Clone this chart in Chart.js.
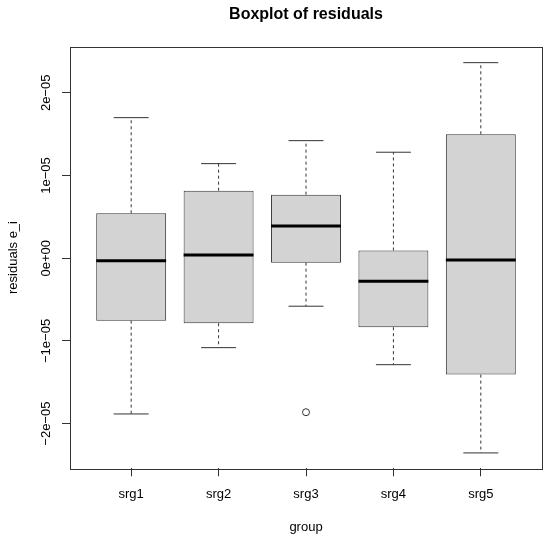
<!DOCTYPE html>
<html>
<head>
<meta charset="utf-8">
<title>Boxplot of residuals</title>
<script src="https://cdn.jsdelivr.net/npm/chart.js@4.4.0/dist/chart.umd.min.js"></script>
<style>
    html, body { margin: 0; padding: 0; background: #fff; }
    #boxChart { display: block; }
</style>
</head>
<body>
<canvas id="boxChart" width="550" height="542"></canvas>
<script>
    // five-number summaries
    const groups       = ['srg1', 'srg2', 'srg3', 'srg4', 'srg5'];
    const lowerWhisker = [-1.883e-5, -1.081e-5, -0.580e-5, -1.287e-5, -2.354e-5];
    const q1           = [-0.755e-5, -0.786e-5, -0.053e-5, -0.834e-5, -1.407e-5];
    const median       = [-0.029e-5,  0.040e-5,  0.391e-5, -0.277e-5, -0.021e-5];
    const q3           = [ 0.544e-5,  0.817e-5,  0.769e-5,  0.094e-5,  1.499e-5];
    const upperWhisker = [ 1.700e-5,  1.144e-5,  1.422e-5,  1.282e-5,  2.365e-5];
    const outlierGroup = [3];
    const outlierValue = [-1.862e-5];

    const yTicks      = [-2e-5, -1e-5, 0, 1e-5, 2e-5];
    const yTickLabels = ['\u22122e\u221205', '\u22121e\u221205', '0e+00', '1e\u221205', '2e\u221205'];
    const yMin = -2.54e-5, yMax = 2.558e-5;

    const FONT = '"Liberation Sans", Arial, Helvetica, sans-serif';
    const LINE = '#333';

    // dashed whiskers: box edge -> whisker end, gaps between segments
    function whiskerPoints() {
        const pts = [];
        groups.forEach((g, i) => {
            const x = i + 1;
            pts.push({x: x, y: q3[i]}, {x: x, y: upperWhisker[i]}, {x: x, y: null});
            pts.push({x: x, y: q1[i]}, {x: x, y: lowerWhisker[i]}, {x: x, y: null});
        });
        return pts;
    }

    function capPoints() {
        const pts = [];
        groups.forEach((g, i) => {
            const x = i + 1;
            pts.push({x: x - 0.2, y: upperWhisker[i]}, {x: x + 0.2, y: upperWhisker[i]}, {x: x, y: null});
            pts.push({x: x - 0.2, y: lowerWhisker[i]}, {x: x + 0.2, y: lowerWhisker[i]}, {x: x, y: null});
        });
        return pts;
    }

    function medianPoints() {
        const pts = [];
        groups.forEach((g, i) => {
            const x = i + 1;
            pts.push({x: x - 0.4, y: median[i]}, {x: x + 0.4, y: median[i]}, {x: x, y: null});
        });
        return pts;
    }

    // frame round the plot and rotated y tick labels, like base R
    const frameAndLabels = {
        id: 'frameAndLabels',
        afterDraw(chart) {
            const ctx = chart.ctx;
            const a = chart.chartArea;
            const y = chart.scales.y;
            ctx.save();
            ctx.strokeStyle = LINE;
            ctx.lineWidth = 1;
            ctx.strokeRect(Math.round(a.left) + 0.5, Math.round(a.top) + 0.5,
                           Math.round(a.right - a.left), Math.round(a.bottom - a.top));
            ctx.fillStyle = '#000';
            ctx.font = '13px ' + FONT;
            ctx.textAlign = 'center';
            ctx.textBaseline = 'middle';
            for (let i = 0; i < yTicks.length; i++) {
                ctx.save();
                ctx.translate(a.left - 24, y.getPixelForValue(yTicks[i]));
                ctx.rotate(-Math.PI / 2);
                ctx.fillText(yTickLabels[i], 0, 0);
                ctx.restore();
            }
            ctx.restore();
        }
    };

    const ctx1 = document.getElementById('boxChart').getContext('2d');
    const boxChart = new Chart(ctx1, {
        type: 'bar',
        data: {
            datasets: [
                {
                    type: 'bar',
                    data: groups.map((g, i) => ({x: i + 1, y: [q1[i], q3[i]]})),
                    backgroundColor: '#d3d3d3',
                    borderColor: LINE,
                    borderWidth: 1,
                    borderSkipped: false,
                    categoryPercentage: 0.8,
                    barPercentage: 1.0,
                    order: 3
                },
                {
                    type: 'line',
                    data: whiskerPoints(),
                    borderColor: LINE,
                    borderWidth: 1,
                    borderDash: [3, 3],
                    pointRadius: 0,
                    fill: false,
                    order: 2
                },
                {
                    type: 'line',
                    data: capPoints(),
                    borderColor: LINE,
                    borderWidth: 1,
                    pointRadius: 0,
                    fill: false,
                    order: 1
                },
                {
                    type: 'line',
                    data: medianPoints(),
                    borderColor: '#000',
                    borderWidth: 3,
                    borderCapStyle: 'butt',
                    pointRadius: 0,
                    fill: false,
                    order: 0
                },
                {
                    type: 'line',
                    data: outlierGroup.map((g, i) => ({x: g, y: outlierValue[i]})),
                    showLine: false,
                    pointStyle: 'circle',
                    pointRadius: 3.5,
                    borderColor: LINE,
                    borderWidth: 1,
                    backgroundColor: 'rgba(0,0,0,0)',
                    order: 0
                }
            ]
        },
        options: {
            responsive: false,
            animation: false,
            layout: { padding: { left: 0, right: 8, top: 0, bottom: 0 } },
            plugins: {
                legend: { display: false },
                tooltip: { enabled: false },
                title: {
                    display: true,
                    text: 'Boxplot of residuals',
                    fullSize: false,
                    color: '#000',
                    font: { family: FONT, size: 16, weight: 'bold' },
                    padding: { top: 5, bottom: 22.5 }
                }
            },
            scales: {
                x: {
                    type: 'linear',
                    min: 0.3,
                    max: 5.7,
                    offset: false,
                    afterBuildTicks: s => { s.ticks = groups.map((g, i) => ({value: i + 1})); },
                    afterFit: s => { s.height = 542 - 468.3; },
                    ticks: {
                        callback: (v, i) => groups[i],
                        color: '#000',
                        font: { family: FONT, size: 13 },
                        padding: 10,
                        maxRotation: 0,
                        autoSkip: false
                    },
                    grid: { drawOnChartArea: false, drawTicks: true, tickLength: 8, color: LINE, offset: false },
                    border: { display: false },
                    title: {
                        display: true,
                        text: 'group',
                        color: '#000',
                        font: { family: FONT, size: 13 },
                        padding: { top: 0, bottom: 7 }
                    }
                },
                y: {
                    type: 'linear',
                    min: yMin,
                    max: yMax,
                    afterBuildTicks: s => { s.ticks = yTicks.map(v => ({value: v})); },
                    afterFit: s => { s.width = 70; },
                    ticks: { display: false },
                    grid: { drawOnChartArea: false, drawTicks: true, tickLength: 8, color: LINE },
                    border: { display: false },
                    title: {
                        display: true,
                        text: 'residuals e_i',
                        color: '#000',
                        font: { family: FONT, size: 13 },
                        padding: { top: 6, bottom: 0 }
                    }
                }
            }
        },
        plugins: [frameAndLabels]
    });
</script>
</body>
</html>
